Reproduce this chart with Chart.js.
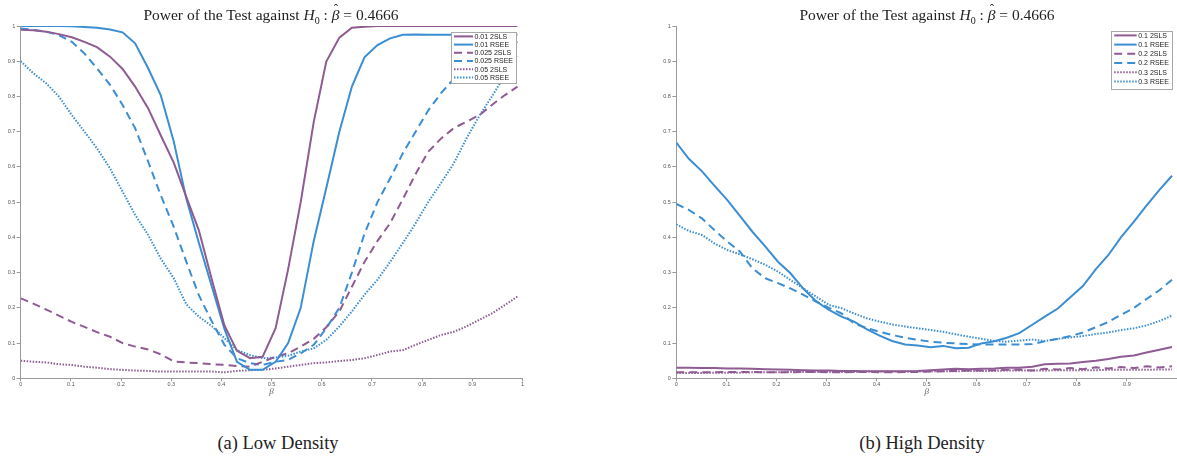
<!DOCTYPE html>
<html><head><meta charset="utf-8">
<script src="https://cdn.jsdelivr.net/npm/chart.js@4.4.1/dist/chart.umd.min.js"></script>
<style>
html,body{margin:0;padding:0;background:#fff;width:1177px;height:461px;overflow:hidden;position:relative;}
canvas{position:absolute;top:0;}
#cL{left:0;} #cR{left:600px;}
.ttl{position:absolute;font-family:"Liberation Serif","DejaVu Serif",serif;font-size:15.5px;line-height:15px;color:#222;white-space:nowrap;transform:translateX(-50%);top:7px;}
.cap{position:absolute;font-family:"Liberation Serif","DejaVu Serif",serif;font-size:18.5px;line-height:18.5px;color:#222;white-space:nowrap;transform:translateX(-50%);top:434px;}
sub{font-size:10px;line-height:0;}
.hat{position:relative;display:inline-block;}
.hat .h{position:absolute;left:2px;top:-6px;font-style:normal;font-size:13px;}
</style></head><body>
<canvas id="cL" width="560" height="400"></canvas>
<canvas id="cR" width="577" height="400"></canvas>
<div class="ttl" style="left:271px">Power of the Test against <i>H</i><sub>0</sub> : <span class="hat"><i>β</i><span class="h">ˆ</span></span> = 0.4666</div>
<div class="ttl" style="left:927px">Power of the Test against <i>H</i><sub>0</sub> : <span class="hat"><i>β</i><span class="h">ˆ</span></span> = 0.4666</div>
<div class="cap" style="left:278px">(a) Low Density</div>
<div class="cap" style="left:922px">(b) High Density</div>
<script>
// ---- data ----
const beta = [0,0.025,0.051,0.076,0.102,0.127,0.152,0.178,0.203,0.228,0.254,0.279,0.305,0.330,0.355,0.381,0.406,0.431,0.457,0.482,0.508,0.533,0.558,0.584,0.609,0.635,0.660,0.685,0.711,0.736,0.762,0.787,0.812,0.838,0.863,0.888,0.914,0.939,0.965,0.990];
const xTicks = [0,0.1,0.2,0.3,0.4,0.5,0.6,0.7,0.8,0.9,1];
const yTicks = [0,0.1,0.2,0.3,0.4,0.5,0.6,0.7,0.8,0.9,1];

const lowLabels = ['0.01 2SLS','0.01 RSEE','0.025 2SLS','0.025 RSEE','0.05 2SLS','0.05 RSEE'];
const low2sls01 = [0.989,0.988,0.984,0.977,0.968,0.955,0.940,0.913,0.878,0.828,0.766,0.690,0.612,0.515,0.420,0.280,0.150,0.078,0.057,0.061,0.142,0.310,0.500,0.728,0.899,0.967,0.995,0.998,1,1,1,1,1,1,1,1,1,1,1,1];
const lowRsee01 = [1,1,1,1,0.999,0.997,0.995,0.990,0.982,0.951,0.880,0.804,0.672,0.510,0.385,0.260,0.140,0.047,0.024,0.024,0.047,0.100,0.200,0.390,0.540,0.700,0.828,0.911,0.946,0.965,0.975,0.976,0.975,0.975,0.975,0.975,0.975,0.975,0.975,0.975];
const low2sls025 = [0.227,0.212,0.195,0.178,0.160,0.146,0.131,0.118,0.100,0.090,0.082,0.068,0.048,0.045,0.043,0.040,0.038,0.035,0.033,0.047,0.061,0.071,0.090,0.112,0.145,0.190,0.260,0.330,0.390,0.440,0.510,0.580,0.643,0.681,0.710,0.728,0.747,0.776,0.804,0.828];
const lowRsee025 = [0.993,0.989,0.984,0.974,0.955,0.922,0.880,0.833,0.776,0.710,0.615,0.520,0.430,0.331,0.236,0.161,0.095,0.057,0.043,0.038,0.047,0.052,0.071,0.095,0.142,0.200,0.300,0.410,0.500,0.567,0.640,0.700,0.760,0.810,0.850,0.885,0.910,0.930,0.945,0.955];
const low2sls05 = [0.050,0.047,0.045,0.040,0.038,0.033,0.030,0.026,0.024,0.022,0.021,0.019,0.019,0.019,0.019,0.019,0.017,0.021,0.023,0.024,0.028,0.033,0.038,0.043,0.045,0.049,0.052,0.057,0.066,0.076,0.080,0.095,0.109,0.123,0.132,0.147,0.166,0.184,0.208,0.232];
const lowRsee05 = [0.900,0.866,0.837,0.800,0.747,0.700,0.653,0.596,0.530,0.464,0.407,0.340,0.284,0.210,0.175,0.148,0.114,0.080,0.066,0.057,0.059,0.064,0.076,0.085,0.109,0.147,0.190,0.237,0.280,0.330,0.385,0.440,0.500,0.555,0.610,0.680,0.745,0.800,0.860,0.920];

const highLabels = ['0.1 2SLS','0.1 RSEE','0.2 2SLS','0.2 RSEE','0.3 2SLS','0.3 RSEE'];
const high2sls01 = [0.030,0.030,0.029,0.029,0.028,0.028,0.027,0.026,0.025,0.024,0.023,0.022,0.022,0.021,0.021,0.020,0.020,0.020,0.020,0.021,0.023,0.025,0.027,0.026,0.027,0.028,0.030,0.030,0.033,0.040,0.041,0.042,0.046,0.050,0.055,0.061,0.065,0.073,0.081,0.089];
const highRsee01 = [0.669,0.623,0.588,0.547,0.506,0.461,0.416,0.374,0.331,0.298,0.254,0.219,0.194,0.175,0.161,0.139,0.121,0.106,0.096,0.093,0.088,0.092,0.085,0.087,0.099,0.105,0.115,0.128,0.152,0.175,0.198,0.230,0.262,0.310,0.350,0.400,0.445,0.490,0.535,0.575];
const high2sls02 = [0.017,0.017,0.017,0.017,0.018,0.018,0.018,0.017,0.017,0.017,0.018,0.018,0.017,0.017,0.018,0.018,0.017,0.017,0.018,0.018,0.019,0.020,0.021,0.022,0.022,0.023,0.024,0.025,0.022,0.027,0.025,0.029,0.026,0.031,0.028,0.032,0.029,0.034,0.031,0.034];
const highRsee02 = [0.495,0.478,0.454,0.421,0.388,0.360,0.312,0.284,0.270,0.255,0.237,0.218,0.200,0.184,0.156,0.142,0.132,0.123,0.115,0.109,0.104,0.101,0.099,0.097,0.096,0.096,0.096,0.096,0.097,0.105,0.112,0.120,0.130,0.145,0.160,0.180,0.200,0.225,0.250,0.280];
const high2sls03 = [0.015,0.015,0.015,0.016,0.016,0.016,0.017,0.017,0.017,0.018,0.018,0.018,0.018,0.018,0.018,0.019,0.019,0.019,0.019,0.019,0.020,0.020,0.020,0.021,0.021,0.021,0.022,0.022,0.022,0.022,0.023,0.023,0.023,0.023,0.024,0.024,0.024,0.024,0.025,0.025];
const highRsee03 = [0.437,0.418,0.407,0.383,0.364,0.352,0.338,0.322,0.303,0.279,0.255,0.232,0.208,0.199,0.184,0.170,0.161,0.153,0.147,0.142,0.137,0.132,0.125,0.118,0.112,0.106,0.104,0.107,0.110,0.106,0.112,0.116,0.120,0.126,0.130,0.137,0.142,0.150,0.163,0.178];

// ---- styling ----
const PURPLE = '#8E5B93';
const BLUE = '#3B8ED2';
const styles = [
  {c:PURPLE, d:[]}, {c:BLUE, d:[]},
  {c:PURPLE, d:[8,5]}, {c:BLUE, d:[8,5]},
  {c:PURPLE, d:[1.5,1.5]}, {c:BLUE, d:[1.5,1.5]}
];
const pts = arr => beta.map((b,i)=>({x:b, y:arr[i]}));
function makeDatasets(labels, series){
  return series.map((s,i)=>({
    label: labels[i], data: pts(s), borderColor: styles[i].c, backgroundColor: styles[i].c,
    borderWidth: 2, borderDash: styles[i].d, pointRadius: 0, tension: 0, fill:false
  }));
}

const legendBox = {
  id:'legendBox',
  afterDatasetsDraw(chart, args, o){
    const ctx=chart.ctx, a=chart.chartArea;
    const x1=a.right-o.right, x0=x1-o.width, y0=a.top+o.top;
    ctx.save();
    ctx.fillStyle='#fff'; ctx.fillRect(x0,y0,o.width,o.height);
    ctx.strokeStyle='#a8a8a8'; ctx.lineWidth=1; ctx.setLineDash([]);
    ctx.strokeRect(Math.round(x0)+0.5,Math.round(y0)+0.5,Math.round(o.width)-1,Math.round(o.height)-1);
    ctx.font=o.font; ctx.textBaseline='middle'; ctx.textAlign='left';
    chart.data.datasets.forEach((ds,i)=>{
      const y=y0+o.first+i*o.step;
      ctx.strokeStyle=ds.borderColor; ctx.lineWidth=ds.borderWidth; ctx.setLineDash(ds.borderDash||[]);
      ctx.beginPath(); ctx.moveTo(x0+o.lineStart,y); ctx.lineTo(x0+o.lineEnd,y); ctx.stroke();
      ctx.setLineDash([]);
      ctx.fillStyle='#222';
      ctx.fillText(ds.label, x0+o.textStart, y+0.5);
    });
    ctx.restore();
  }
};

function fmt(v){ return String(Math.round(v*10)/10); }

function makeOptions(yWidth, padRight, legendOpts, hideLast){
  const tickFont = {family:'"Liberation Sans", Arial, sans-serif', size:5.5};
  return {
    responsive:false, animation:false, devicePixelRatio:1,
    layout:{padding:{top:26, right:padRight, bottom:0, left:0}},
    plugins:{legend:{display:false}, title:{display:false}, tooltip:{enabled:false}, legendBox:legendOpts},
    scales:{
      x:{type:'linear', min:0, max:1,
        afterBuildTicks: s => { s.ticks = xTicks.map(v=>({value:v})); },
        afterFit: s => { s.height = 21.7; },
        ticks:{font:tickFont, color:'#555', padding:0, maxRotation:0, autoSkip:false,
          callback: v => (hideLast && v===1) ? '' : fmt(v)},
        grid:{drawOnChartArea:false, drawTicks:true, tickLength:3, color:'#9a9a9a', lineWidth:1},
        border:{display:true, color:'#9a9a9a', width:1},
        title:{display:true, text:'β', color:'#666', font:{family:'"Liberation Serif", serif', style:'italic', size:9}, padding:{top:0,bottom:3.1}}
      },
      y:{type:'linear', min:0, max:1,
        afterBuildTicks: s => { s.ticks = yTicks.map(v=>({value:v})); },
        afterFit: s => { s.width = yWidth; },
        ticks:{font:tickFont, color:'#555', padding:1.4, autoSkip:false, callback: v => fmt(v)},
        grid:{drawOnChartArea:false, drawTicks:true, tickLength:4, color:'#9a9a9a', lineWidth:1},
        border:{display:true, color:'#9a9a9a', width:1}
      }
    }
  };
}

new Chart(document.getElementById('cL'), {
  type:'line',
  data:{datasets: makeDatasets(lowLabels, [low2sls01, lowRsee01, low2sls025, lowRsee025, low2sls05, lowRsee05])},
  options: makeOptions(20.7, 37.5, {right:5.5, top:6, width:66, height:51.5, first:4.4, step:8.2, lineStart:3, lineEnd:22, textStart:23.5, font:'7px "Liberation Sans", Arial, sans-serif'}, false),
  plugins:[legendBox]
});

new Chart(document.getElementById('cR'), {
  type:'line',
  data:{datasets: makeDatasets(highLabels, [high2sls01, highRsee01, high2sls02, highRsee02, high2sls03, highRsee03])},
  options: makeOptions(76.3, 0, {right:4.3, top:5, width:61.5, height:59, first:4.4, step:9.2, lineStart:3, lineEnd:25.5, textStart:27, font:'7px "Liberation Sans", Arial, sans-serif'}, true),
  plugins:[legendBox]
});
</script>
</body></html>
